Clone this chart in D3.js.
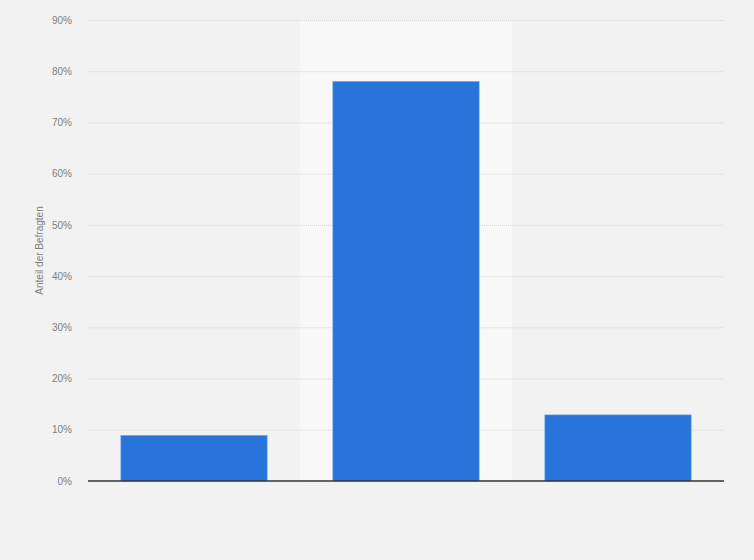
<!DOCTYPE html>
<html>
<head>
<meta charset="utf-8">
<title>Anteil der Befragten</title>
<script src="https://d3js.org/d3.v7.min.js"></script>
<style>
  html, body { margin: 0; padding: 0; background: #f2f2f2; }
  svg { display: block; font-family: "Liberation Sans", Arial, sans-serif; }
</style>
</head>
<body>
<div id="chart"></div>
<script>
// data (category names are not shown in the original)
var categories = ["k1", "k2", "k3"];
var values = [8.9, 78, 12.9];
var yTicks = [0, 10, 20, 30, 40, 50, 60, 70, 80, 90];
var highlighted = "k2";

var width = 754, height = 560;
var margin = { top: 20, right: 30, bottom: 79, left: 88 };

var svg = d3.select("#chart").append("svg")
  .attr("width", width)
  .attr("height", height);

svg.append("rect")
  .attr("width", width)
  .attr("height", height)
  .attr("fill", "#f2f2f2");

var x = d3.scaleBand()
  .domain(categories)
  .range([margin.left, width - margin.right])
  .paddingInner(0.31)
  .paddingOuter(0.155);

var band = d3.scaleBand()
  .domain(categories)
  .range([margin.left, width - margin.right]);

var y = d3.scaleLinear()
  .domain([0, 90])
  .range([height - margin.bottom, margin.top]);

// highlighted column
svg.append("rect")
  .attr("x", band(highlighted))
  .attr("y", margin.top)
  .attr("width", band.bandwidth())
  .attr("height", y(0) - margin.top)
  .attr("fill", "#f8f8f8");

// grid lines
svg.append("g")
  .selectAll("line")
  .data(yTicks.filter(function(d) { return d > 0; }))
  .enter().append("line")
  .attr("x1", margin.left)
  .attr("x2", width - margin.right)
  .attr("y1", function(d) { return y(d) + 0.5; })
  .attr("y2", function(d) { return y(d) + 0.5; })
  .attr("stroke", "#d6d6d6")
  .attr("stroke-width", 1)
  .attr("stroke-dasharray", "1,1");

// y axis labels
var yAxis = d3.axisLeft(y)
  .tickValues(yTicks)
  .tickSize(0)
  .tickPadding(16)
  .tickFormat(function(d) { return d + "%"; });

var gy = svg.append("g")
  .attr("transform", "translate(" + margin.left + ",0)")
  .call(yAxis);
gy.select(".domain").remove();
gy.selectAll("text")
  .attr("fill", "#808080")
  .style("font-size", "10px")
  .style("font-family", "'Liberation Sans', Arial, sans-serif");

// axis title
svg.append("text")
  .attr("transform", "translate(43," + ((margin.top + y(0)) / 2) + ") rotate(-90)")
  .attr("text-anchor", "middle")
  .attr("fill", "#808080")
  .style("font-size", "10px")
  .text("Anteil der Befragten");

// bars
svg.append("g")
  .selectAll("rect")
  .data(values)
  .enter().append("rect")
  .attr("x", function(d, i) { return x(categories[i]); })
  .attr("y", function(d) { return y(d); })
  .attr("width", x.bandwidth())
  .attr("height", function(d) { return y(0) - y(d); })
  .attr("fill", "#2775db")
  .attr("stroke", "#6fa3ea")
  .attr("stroke-width", 0.6);

// baseline
svg.append("line")
  .attr("x1", margin.left)
  .attr("x2", width - margin.right)
  .attr("y1", y(0))
  .attr("y2", y(0))
  .attr("stroke", "#333")
  .attr("stroke-width", 1.3);
</script>
</body>
</html>
